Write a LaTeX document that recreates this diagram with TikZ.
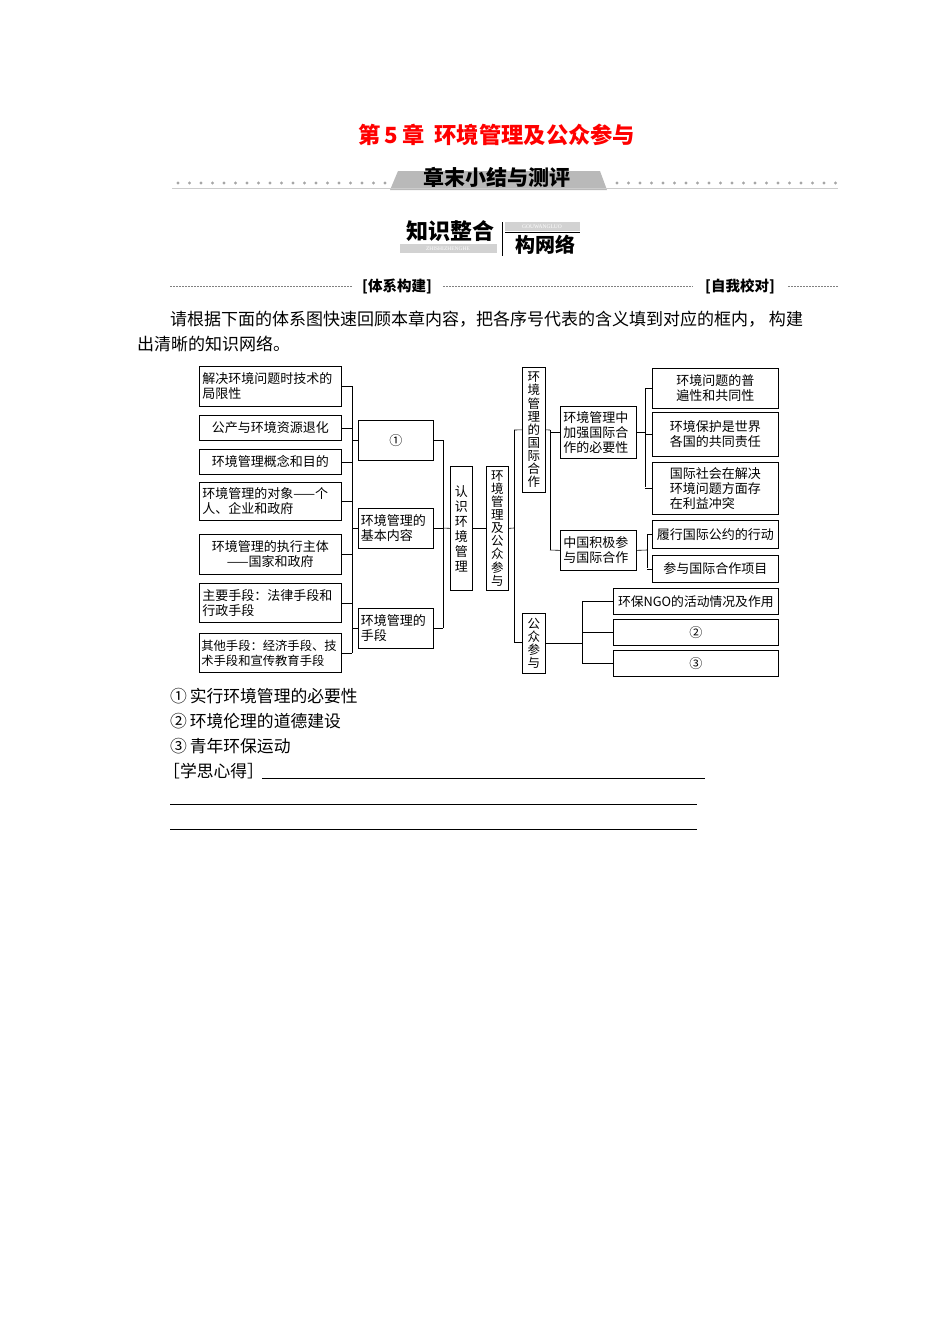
\documentclass[tikz,border=0pt]{standalone}
\usepackage{fontspec}
\setmainfont{Noto Sans CJK SC}
\newfontfamily\lat{Liberation Serif}
\begin{document}
\begin{tikzpicture}[x=1pt,y=-1pt,
 bx/.style={draw,line width=0.7pt,inner sep=0pt,font=\fontsize{13}{15}\selectfont,align=left},
 vb/.style={draw,line width=0.7pt,inner sep=0pt,font=\fontsize{12.5}{13.1}\selectfont,align=center},
 ln/.style={line width=0.6pt}]
\useasboundingbox (0,0) rectangle (950,1344);
% header
\node[text=red,font=\fontsize{22.3}{24}\selectfont\bfseries] (title) at (497,135) {第\,5\,章\ \ 环境管理及公众参与};
\fill[gray!55] (390,190) -- (398,171) -- (600,171) -- (607,190) -- cycle;
\node[font=\fontsize{21}{22}\selectfont\bfseries] (sub) at (497,177) {章末小结与测评};
\draw[gray!40,line width=1pt] (172,188) -- (838,188);
\foreach \i in {0,...,18}{\fill[gray!70] (385-\i*11.5,183) circle (1.6);}
\foreach \i in {0,...,19}{\fill[gray!70] (617+\i*11.5,183) circle (1.6);}
\node[font=\fontsize{22}{24}\selectfont\bfseries] (zs) at (450,231) {知识整合};
\fill[gray!35] (400,244) rectangle (497,253);
\node[text=white,font=\lat\fontsize{5.5}{6}\selectfont] (zsp) at (448,249) {ZHISHIZHENGHE};
\draw[line width=0.8pt] (502,222) -- (502,256);
\fill[gray!35] (505,222) rectangle (580,231);
\node[text=white,font=\lat\fontsize{5.5}{6}\selectfont] (gw) at (542,227) {GOUWANGLUO};
\draw[line width=0.6pt] (505,232) -- (580,232);
\node[font=\fontsize{20}{22}\selectfont\bfseries] (gwl) at (545,245) {构网络};
\draw[dashed,gray,line width=0.5pt,dash pattern=on 2pt off 1pt] (170,286) -- (352,286) (443,286) -- (693,286) (788,286) -- (838,286);
\node[font=\fontsize{14.5}{15}\selectfont\bfseries] (tx) at (397,286) {[体系构建]};
\node[font=\fontsize{14.5}{15}\selectfont\bfseries] (zw) at (740,286) {[自我校对]};
\node[anchor=west,font=\fontsize{17}{19}\selectfont,inner sep=0pt] (p1) at (170,319) {请根据下面的体系图快速回顾本章内容，把各序号代表的含义填到对应的框内，\ 构建};
\node[anchor=west,font=\fontsize{17}{19}\selectfont,inner sep=0pt] (p2) at (137,344) {出清晰的知识网络。};
% left column
\node[bx,minimum width=142,minimum height=40,anchor=north west,text width=136] (L1) at (199,366) {解决环境问题时技术的\\局限性};
\node[bx,minimum width=142,minimum height=25,anchor=north west,align=center] (L2) at (199,415) {公产与环境资源退化};
\node[bx,minimum width=142,minimum height=25,anchor=north west,align=center] (L3) at (199,449) {环境管理概念和目的};
\node[bx,minimum width=142,minimum height=38,anchor=north west,text width=136] (L4) at (199,482) {环境管理的对象——个\\人、企业和政府};
\node[bx,minimum width=142,minimum height=40,anchor=north west,text width=136,align=center] (L5) at (199,534) {环境管理的执行主体\\——国家和政府};
\node[bx,minimum width=142,minimum height=39,anchor=north west,text width=136] (L6) at (199,583) {主要手段：法律手段和\\行政手段};
\node[bx,minimum width=142,minimum height=39,anchor=north west,text width=138,font=\fontsize{12.3}{15}\selectfont] (L7) at (199,633) {其他手段：经济手段、技\\术手段和宣传教育手段};
\node[bx,minimum width=75,minimum height=40,anchor=north west,align=center] (M1) at (358,420) {①};
\node[bx,minimum width=75,minimum height=40,anchor=north west,text width=70] (M2) at (358,508) {环境管理的\\基本内容};
\node[bx,minimum width=75,minimum height=40,anchor=north west,text width=70] (M3) at (358,608) {环境管理的\\手段};
\draw[ln] (352,386) -- (352,653);
\foreach \n in {L1,L2,L3,L4,L5,L6,L7}{\draw[ln] (\n.east) -- (352,0 |- \n.east);}
\foreach \n in {M1,M2,M3}{\draw[ln] (352,0 |- \n.west) -- (\n.west); \draw[ln] (\n.east) -- (443,0 |- \n.east);}
\draw[ln] (443,440) -- (443,628);
\node[vb,minimum width=22,minimum height=124,anchor=north west,text width=14,font=\fontsize{13}{15}\selectfont] (RS) at (450,466) {认\\识\\环\\境\\管\\理};
\node[vb,minimum width=22,minimum height=124,anchor=north west,text width=14] (HJ) at (486,466) {环\\境\\管\\理\\及\\公\\众\\参\\与};
\draw[ln] (443,528) -- (RS.west);
\draw[ln] (RS.east) -- (HJ.west);
\draw[ln] (HJ.east) -- (514,528);
\draw[ln] (514,430) -- (514,642);
\node[vb,minimum width=23,minimum height=125,anchor=north west,text width=14] (R1) at (522,367) {环\\境\\管\\理\\的\\国\\际\\合\\作};
\node[vb,minimum width=23,minimum height=60,anchor=north west,text width=14] (R2) at (522,613) {公\\众\\参\\与};
\draw[ln] (514,430) -- (R1.west);
\draw[ln] (514,642) -- (R1.west |- 0,642);
\draw[ln] (R1.east) -- (550,430);
\draw[ln] (550,430) -- (550,550);
\node[bx,minimum width=76,minimum height=52,anchor=north west,text width=70] (C1) at (560,406) {环境管理中\\加强国际合\\作的必要性};
\node[bx,minimum width=76,minimum height=40,anchor=north west,text width=70] (C2) at (560,530) {中国积极参\\与国际合作};
\draw[ln] (550,0 |- C1.west) -- (C1.west);
\draw[ln] (550,550) -- (C2.west);
\node[bx,minimum width=126,minimum height=40,anchor=north west,align=center] (D1) at (652,368) {环境问题的普\\遍性和共同性};
\node[bx,minimum width=126,minimum height=44,anchor=north west,align=center] (D2) at (652,412) {环境保护是世界\\各国的共同责任};
\node[bx,minimum width=126,minimum height=52,anchor=north west,align=left] (D3) at (652,462) {国际社会在解决\\环境问题方面存\\在利益冲突};
\node[bx,minimum width=126,minimum height=28,anchor=north west,align=center] (D4) at (652,520) {履行国际公约的行动};
\node[bx,minimum width=126,minimum height=27,anchor=north west,align=center] (D5) at (652,555) {参与国际合作项目};
\draw[ln] (C1.east) -- (645,0 |- C1.east);
\draw[ln] (645,388) -- (645,487);
\foreach \n in {D1,D2,D3}{\draw[ln] (645,0 |- \n.west) -- (\n.west);}
\draw[ln] (C2.east) -- (647,550);
\draw[ln] (647,534) -- (647,568);
\foreach \n in {D4,D5}{\draw[ln] (647,0 |- \n.west) -- (\n.west);}
\node[bx,minimum width=165,minimum height=26,anchor=north west,align=center,font=\fontsize{12.8}{14}\selectfont] (E1) at (613,588) {环保NGO的活动情况及作用};
\node[bx,minimum width=165,minimum height=26,anchor=north west,align=center] (E2) at (613,619) {②};
\node[bx,minimum width=165,minimum height=26,anchor=north west,align=center] (E3) at (613,650) {③};
\draw[ln] (R2.east) -- (582,0 |- R2.east);
\draw[ln] (582,601) -- (582,663);
\foreach \n in {E1,E2,E3}{\draw[ln] (582,0 |- \n.west) -- (\n.west);}
% answers
\node[anchor=west,inner sep=0pt,font=\fontsize{16.8}{18}\selectfont] (a1) at (170,696) {①\,实行环境管理的必要性};
\node[anchor=west,inner sep=0pt,font=\fontsize{16.8}{18}\selectfont] (a2) at (170,721) {②\,环境伦理的道德建设};
\node[anchor=west,inner sep=0pt,font=\fontsize{16.8}{18}\selectfont] (a3) at (170,746) {③\,青年环保运动};
\node[anchor=west,inner sep=0pt,font=\fontsize{16.8}{18}\selectfont] (a4) at (163,771) {［学思心得］};
\draw[line width=0.4pt] (262,778) -- (705,778) (170,804) -- (697,804) (170,829) -- (697,829);
\end{tikzpicture}
\end{document}
